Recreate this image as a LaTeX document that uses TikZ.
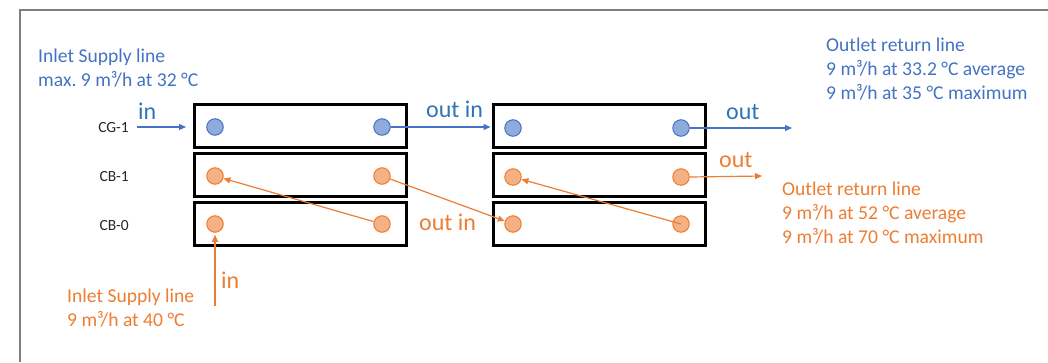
\documentclass[tikz,border=0pt]{standalone}
\usepackage{fontspec}
\setmainfont{Carlito}
\usetikzlibrary{arrows.meta}
\definecolor{cblue}{HTML}{4472C4}
\definecolor{cbluelab}{HTML}{2E75B6}
\definecolor{cbluefill}{HTML}{8FAADC}
\definecolor{corange}{HTML}{ED7D31}
\definecolor{corangefill}{HTML}{F4B183}
\definecolor{cframe}{HTML}{7F7F7F}
\frenchspacing
\begin{document}
\begin{tikzpicture}[x=1pt,y=-1pt,
  hx/.style={draw=black, line width=3pt, minimum width=212pt, minimum height=43pt, inner sep=0pt},
  bport/.style={circle, draw=cblue, fill=cbluefill, line width=1pt, minimum size=16.5pt, inner sep=0pt},
  oport/.style={circle, draw=corange, fill=corangefill, line width=1pt, minimum size=16.5pt, inner sep=0pt},
  barrow/.style={draw=cblue, line width=1.2pt, -{Triangle[length=7pt,width=6pt]}},
  oarrow/.style={draw=corange, line width=1.2pt, -{Triangle[length=7pt,width=6pt]}},
  info/.style={font=\fontsize{19.6}{24}\selectfont, align=left, inner sep=0pt, anchor=base west},
  flow/.style={font=\fontsize{24}{28}\selectfont, inner sep=0pt, anchor=base west},
  rowlab/.style={font=\fontsize{15.5}{18}\selectfont, inner sep=0pt, anchor=base east, text=black!85}
]
\useasboundingbox (0,0) rectangle (1048,362);
% frame
\draw[cframe, line width=1.5pt] (20,362) -- (20,10) -- (1048,10);

% heat exchanger plates
\node[hx] (L1) at (300.5,126) {};
\node[hx] (L2) at (300.5,175) {};
\node[hx] (L3) at (300.5,224) {};
\node[hx] (R1) at (599,126) {};
\node[hx] (R2) at (599,175) {};
\node[hx] (R3) at (599,224) {};

% ports
\node[bport] (LG1) at (215,127) {};
\node[bport] (LG2) at (382,127) {};
\node[oport] (LB1a) at (215,176) {};
\node[oport] (LB1b) at (382,176) {};
\node[oport] (LB0a) at (215,224) {};
\node[oport] (LB0b) at (382,224) {};
\node[bport] (RG1) at (513,128) {};
\node[bport] (RG2) at (681,128) {};
\node[oport] (RB1a) at (513,177) {};
\node[oport] (RB1b) at (681,177) {};
\node[oport] (RB0a) at (513,224) {};
\node[oport] (RB0b) at (681,224) {};

% row labels
\node[rowlab] (tCG) at (129,132) {CG-1};
\node[rowlab] (tCB1) at (129,181) {CB-1};
\node[rowlab] (tCB0) at (129,230) {CB-0};

% free ends
\coordinate (gin) at (137,127);
\coordinate (gout) at (792,128);
\coordinate (oout) at (762,176);
\coordinate (oin) at (215,306);

% blue connectors
\draw[barrow, shorten >=7pt] (gin) -- (gin -| L1.west);
\draw[barrow, shorten >=1pt] (LG2.east) -- (LG2.east -| R1.west);
\draw[barrow] (RG2.east) -- (gout);

% orange connectors
\draw[oarrow, shorten >=2pt] (oin) -- (LB0a.south);
\draw[oarrow] (LB0b) -- (LB1a);
\draw[oarrow] (LB1b) -- (RB0a);
\draw[oarrow] (RB0b.center) -- (RB1a);
\draw[oarrow] (RB1b.east) -- (oout);

% flow labels
\node[flow, text=cbluelab] (lin1) at (138,119) {in};
\node[flow, text=cbluelab] (lmid1) at (426,117) {out in};
\node[flow, text=cbluelab] (lout1) at (726,119) {out};
\node[flow, text=corange] (lout2) at (719,167) {out};
\node[flow, text=corange] (lmid2) at (419,230) {out in};
\node[flow, text=corange] (lin2) at (221,288) {in};

% info texts (anchor at baseline of last line)
\node[info, text=cblue] (iTL) at (38,86) {Inlet Supply line\\max. 9 m³/h at 32 °C};
\node[info, text=cblue] (iTR) at (826,99) {Outlet return line\\9 m³/h at 33.2 °C average\\9 m³/h at 35 °C maximum};
\node[info, text=corange] (iR) at (782,243) {Outlet return line\\9 m³/h at 52 °C average\\9 m³/h at 70 °C maximum};
\node[info, text=corange] (iBL) at (67,326) {Inlet Supply line\\9 m³/h at 40 °C};
\end{tikzpicture}
\end{document}
